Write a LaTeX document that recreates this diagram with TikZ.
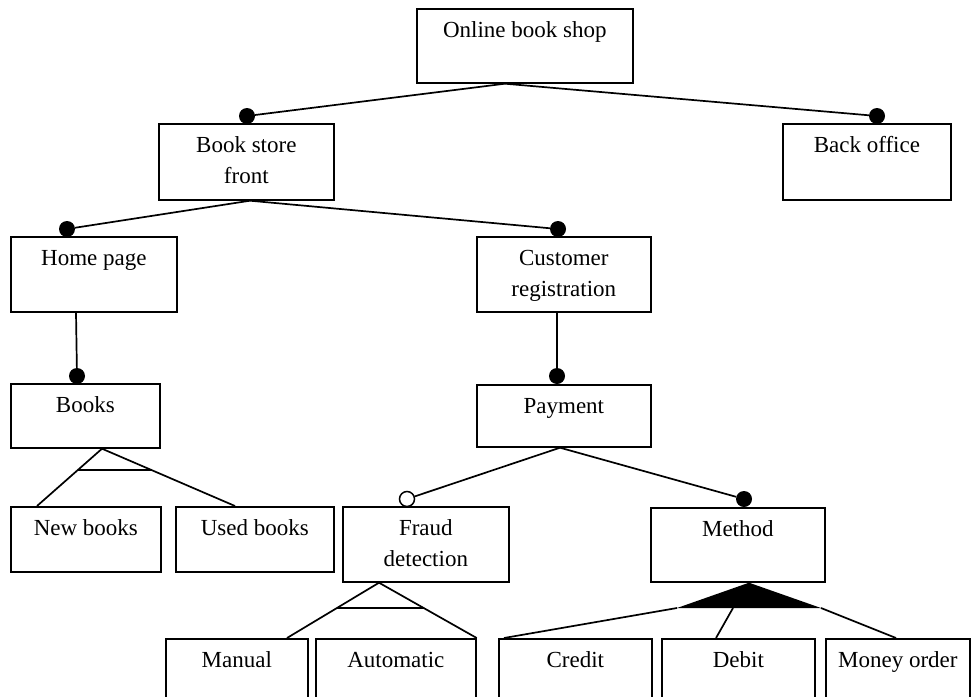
\documentclass[tikz,border=0pt]{standalone}
\usepackage{fontspec}
\setmainfont{Liberation Serif}
\usetikzlibrary{calc}

% feature box: name, left, top, right, bottom, text
\newcommand\featbox[6]{%
  \pgfmathsetmacro\fbw{#4-#2}%
  \pgfmathsetmacro\fbh{#5-#3}%
  \node[box, minimum width=\fbw pt, minimum height=\fbh pt] (#1) at (#2,#3) {};
  \node[lbl] (#1-t) at ([yshift=-8pt]#1.north) {\strut #6};
}

\begin{document}
\begin{tikzpicture}[x=1pt,y=-1pt,
  box/.style={draw, line width=1.7pt, inner sep=0pt, anchor=north west},
  lbl/.style={inner sep=0pt, anchor=north, align=center, font=\fontsize{23}{31}\selectfont},
  conn/.style={line width=1.7pt},
  mand/.style={circle, fill=black, inner sep=0pt, minimum size=16pt},
  opt/.style={circle, draw, fill=white, line width=1.5pt, inner sep=0pt, minimum size=15pt}]
\useasboundingbox (0,0) rectangle (971,696);
\fill[white] (0,0) rectangle (971,696);
\clip (0,0) rectangle (971,696);

% boxes
\featbox{n0}{416}{8}{632}{82}{Online book shop}
\featbox{bsf}{158}{123}{333}{199}{Book store\\front}
\featbox{bo}{782}{123}{950}{199}{Back office}
\featbox{hp}{10}{236}{176}{311}{Home page}
\featbox{cr}{476}{236}{650}{311}{Customer\\registration}
\featbox{bk}{10}{383}{159}{447}{Books}
\featbox{pay}{476}{384}{650}{446}{Payment}
\featbox{nb}{10}{506}{160}{571}{New books}
\featbox{ub}{175}{506}{333}{571}{Used books}
\featbox{fd}{342}{506}{508}{581}{Fraud\\detection}
\featbox{me}{650}{507}{824}{581}{Method}
\featbox{ma}{165}{638}{307}{730}{Manual}
\featbox{au}{315}{638}{475}{730}{Automatic}
\featbox{cd}{498}{638}{651}{730}{Credit}
\featbox{db}{661}{638}{814}{730}{Debit}
\featbox{mo}{825}{638}{969}{730}{Money order}

% mandatory / optional markers
\node[mand] (d-bsf) at (247,116) {};
\node[mand] (d-bo) at (877,116) {};
\node[mand] (d-hp) at (67,229) {};
\node[mand] (d-cr) at (558,229) {};
\node[mand] (d-bk) at (77,376) {};
\node[mand] (d-pay) at (557,376) {};
\node[opt] (d-fd) at (407,499) {};
\node[mand] (d-me) at (744,499) {};

% parent-child links
\draw[conn] (n0.south -| 505,0) -- (d-bsf);
\draw[conn] (n0.south -| 505,0) -- (d-bo);
\draw[conn] (bsf.south -| 250,0) -- (d-hp);
\draw[conn] (bsf.south -| 250,0) -- (d-cr);
\draw[conn] (hp.south -| 76,0) -- (d-bk);
\draw[conn] (cr.south -| 557,0) -- (d-pay);
\draw[conn] (pay.south -| 560,0) -- (d-fd);
\draw[conn] (pay.south -| 560,0) -- (d-me);

% alternative group under Books
\coordinate (a-bk) at (bk.south -| 102,0);
\coordinate (e-nb) at (nb.north -| 37,0);
\coordinate (e-ub) at (ub.north -| 235,0);
\draw[conn] (e-nb) -- (a-bk) -- (e-ub);
\draw[conn] ($(a-bk)!0.37!(e-nb)$) -- ($(a-bk)!0.37!(e-ub)$);

% alternative group under Fraud detection
\coordinate (a-fd) at (fd.south -| 379,0);
\coordinate (e-ma) at (ma.north -| 287,0);
\coordinate (e-au) at (au.north east);
\draw[conn] (e-ma) -- (a-fd) -- (e-au);
\draw[conn] ($(a-fd)!0.46!(e-ma)$) -- ($(a-fd)!0.46!(e-au)$);

% or group under Method
\coordinate (a-me) at (me.south -| 749,0);
\coordinate (b-l) at (677,608);
\coordinate (b-m) at (733,608);
\coordinate (b-r) at (821,608);
\fill (a-me) -- (b-l) -- (b-r) -- cycle;
\draw[conn] (b-l) -- (cd.north -| 504,0);
\draw[conn] (b-m) -- (db.north -| 716,0);
\draw[conn] (b-r) -- (mo.north -| 896,0);
\end{tikzpicture}
\end{document}
